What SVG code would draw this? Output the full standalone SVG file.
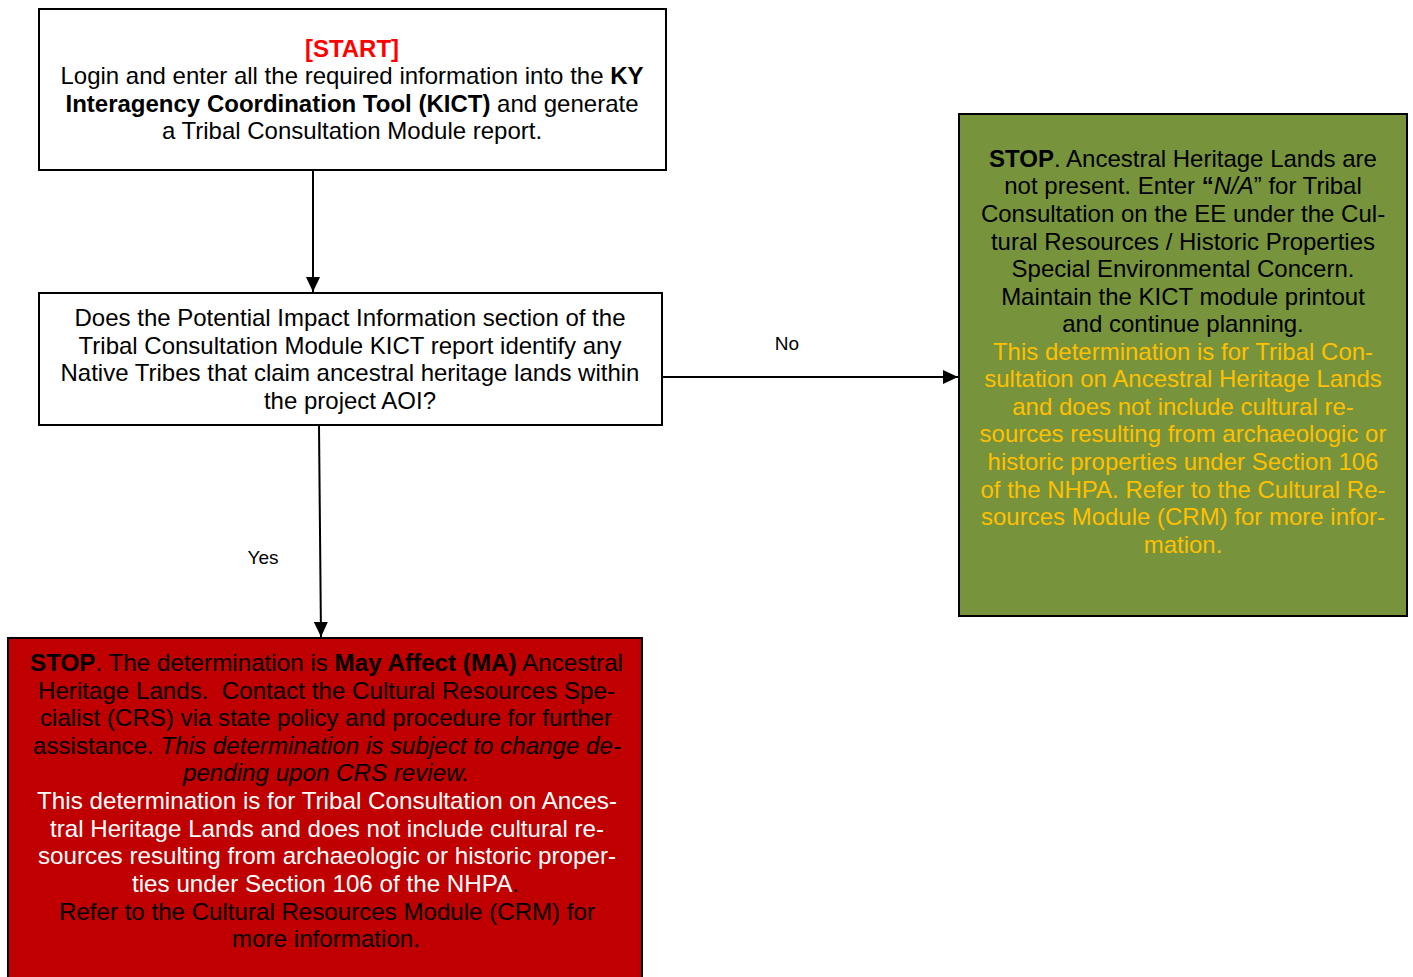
<svg xmlns="http://www.w3.org/2000/svg" width="1413" height="977" viewBox="0 0 1413 977">
<style>
.box{stroke:#000;stroke-width:2}
.t{font-family:"Liberation Sans",Arial,sans-serif;font-size:24px;text-anchor:middle}
.lbl{font-family:"Liberation Sans",Arial,sans-serif;font-size:19px;text-anchor:middle}
.b{font-weight:bold}
.i{font-style:italic}
.y{fill:#FFC000}
.w{fill:#FFFFFF}
.conn{stroke:#000;stroke-width:2;fill:none}
</style>
<defs>
<marker id="ah" markerWidth="15" markerHeight="14" refX="15" refY="7" orient="auto" markerUnits="userSpaceOnUse">
<path d="M0,0 L15,7 L0,14 Z" fill="#000"/>
</marker>
</defs>
<rect width="1413" height="977" fill="#fff"/>
<g id="connectors">
<line class="conn" x1="313" y1="171" x2="313" y2="292" marker-end="url(#ah)"/>
<line class="conn" x1="662" y1="377" x2="958" y2="377" marker-end="url(#ah)"/>
<line class="conn" x1="319" y1="426" x2="321" y2="637" marker-end="url(#ah)"/>
<text class="lbl" x="787" y="350">No</text>
<text class="lbl" x="263" y="564">Yes</text>
</g>
<g id="start">
<rect class="box" x="39" y="9" width="627" height="161" fill="#fff"/>
<text class="t b" x="352" y="57" fill="#FF0000">[START]</text>
<text class="t" x="352" y="84">Login and enter all the required information into the <tspan class="b">KY</tspan></text>
<text class="t" x="352" y="112"><tspan class="b">Interagency Coordination Tool (KICT)</tspan> and generate</text>
<text class="t" x="352" y="139">a Tribal Consultation Module report.</text>
</g>
<g id="decision">
<rect class="box" x="39" y="293" width="623" height="132" fill="#fff"/>
<text class="t" x="350" y="326">Does the Potential Impact Information section of the</text>
<text class="t" x="350" y="354">Tribal Consultation Module KICT report identify any</text>
<text class="t" x="350" y="381">Native Tribes that claim ancestral heritage lands within</text>
<text class="t" x="350" y="409">the project AOI?</text>
</g>
<g id="no-stop">
<rect class="box" x="959" y="114" width="448" height="502" fill="#77933C"/>
<text class="t" x="1183" y="167"><tspan class="b">STOP</tspan>. Ancestral Heritage Lands are</text>
<text class="t" x="1183" y="194">not present. Enter <tspan class="b">“</tspan><tspan class="i">N/A</tspan>” for Tribal</text>
<text class="t" x="1183" y="222">Consultation on the EE under the Cul-</text>
<text class="t" x="1183" y="250">tural Resources / Historic Properties</text>
<text class="t" x="1183" y="277">Special Environmental Concern.</text>
<text class="t" x="1183" y="305">Maintain the KICT module printout</text>
<text class="t" x="1183" y="332">and continue planning.</text>
<text class="t y" x="1183" y="360">This determination is for Tribal Con-</text>
<text class="t y" x="1183" y="387">sultation on Ancestral Heritage Lands</text>
<text class="t y" x="1183" y="415">and does not include cultural re-</text>
<text class="t y" x="1183" y="442">sources resulting from archaeologic or</text>
<text class="t y" x="1183" y="470">historic properties under Section 106</text>
<text class="t y" x="1183" y="498">of the NHPA. Refer to the Cultural Re-</text>
<text class="t y" x="1183" y="525">sources Module (CRM) for more infor-</text>
<text class="t y" x="1183" y="553">mation.</text>
</g>
<g id="yes-stop">
<rect class="box" x="8" y="638" width="634" height="345" fill="#C00000"/>
<text class="t" x="326.5" y="671" textLength="593" lengthAdjust="spacingAndGlyphs"><tspan class="b">STOP</tspan>. The determination is <tspan class="b">May Affect (MA)</tspan> Ancestral</text>
<text class="t" x="326.5" y="699" textLength="577" lengthAdjust="spacingAndGlyphs" xml:space="preserve">Heritage Lands.  Contact the Cultural Resources Spe-</text>
<text class="t" x="326" y="726" textLength="572" lengthAdjust="spacingAndGlyphs">cialist (CRS) via state policy and procedure for further</text>
<text class="t" x="327" y="754" textLength="588" lengthAdjust="spacingAndGlyphs">assistance. <tspan class="i">This determination is subject to change de-</tspan></text>
<text class="t i" x="326" y="781" textLength="286" lengthAdjust="spacingAndGlyphs">pending upon CRS review.</text>
<text class="t w" x="327" y="809" textLength="580" lengthAdjust="spacingAndGlyphs">This determination is for Tribal Consultation on Ances-</text>
<text class="t w" x="327" y="837" textLength="554" lengthAdjust="spacingAndGlyphs">tral Heritage Lands and does not include cultural re-</text>
<text class="t w" x="327" y="864" textLength="578" lengthAdjust="spacingAndGlyphs">sources resulting from archaeologic or historic proper-</text>
<text class="t w" x="325.5" y="892" textLength="387" lengthAdjust="spacingAndGlyphs">ties under Section 106 of the NHPA<tspan fill="#000">.</tspan></text>
<text class="t" x="327" y="920" textLength="536" lengthAdjust="spacingAndGlyphs">Refer to the Cultural Resources Module (CRM) for</text>
<text class="t" x="326" y="947" textLength="188" lengthAdjust="spacingAndGlyphs">more information.</text>
</g>
</svg>
